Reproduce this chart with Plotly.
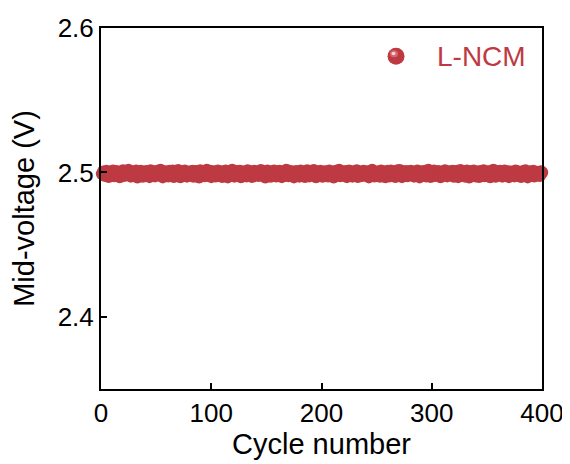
import plotly.graph_objects as go

cycles = list(range(1, 401))
mid_voltage = [
    2.4990, 2.5005, 2.4978, 2.4992, 2.5010, 2.4985, 2.4970, 2.5003, 2.4995, 2.4982, 2.5012, 2.4975, 2.4993, 2.5008, 2.4987, 2.4996, 2.4968, 2.5004, 2.4990, 2.5014,
    2.4976, 2.4991, 2.5007, 2.4984, 2.5016, 2.4993, 2.4972, 2.4989, 2.5006, 2.4980, 2.4997, 2.5011, 2.4966, 2.4988, 2.4994, 2.5009, 2.4983, 2.4971, 2.5002, 2.4992,
    2.5008, 2.4986, 2.4995, 2.4969, 2.5013, 2.4990, 2.5004, 2.4981, 2.4974, 2.4993, 2.5010, 2.4987, 2.4996, 2.5017, 2.4984, 2.4967, 2.4991, 2.5006, 2.4979, 2.4998,
    2.4973, 2.5009, 2.4988, 2.4994, 2.5012, 2.4970, 2.4989, 2.5003, 2.4985, 2.5015, 2.4992, 2.4968, 2.5007, 2.4983, 2.4996, 2.5011, 2.4980, 2.4972, 2.4990, 2.5005,
    2.4987, 2.4995, 2.5010, 2.4971, 2.4992, 2.5008, 2.4984, 2.4997, 2.4966, 2.5013, 2.4989, 2.5004, 2.4982, 2.4975, 2.4993, 2.5016, 2.4986, 2.4991, 2.5009, 2.4969,
    2.4994, 2.5006, 2.4981, 2.4973, 2.4990, 2.5012, 2.4987, 2.4995, 2.5007, 2.4970, 2.4988, 2.4996, 2.5011, 2.4983, 2.4967, 2.5005, 2.4992, 2.4985, 2.5017, 2.4990,
    2.4972, 2.4989, 2.5008, 2.4984, 2.4997, 2.5010, 2.4968, 2.4991, 2.5004, 2.4979, 2.4994, 2.4974, 2.5013, 2.4988, 2.5006, 2.4982, 2.4970, 2.4993, 2.5009, 2.4986,
    2.5003, 2.4990, 2.4976, 2.4995, 2.5015, 2.4983, 2.4992, 2.5007, 2.4966, 2.4989, 2.5011, 2.4985, 2.4996, 2.4971, 2.5005, 2.4991, 2.5012, 2.4980, 2.4973, 2.4994,
    2.4988, 2.5009, 2.4984, 2.4969, 2.4993, 2.5006, 2.4990, 2.5016, 2.4982, 2.4975, 2.5010, 2.4987, 2.4997, 2.5004, 2.4967, 2.4992, 2.5008, 2.4986, 2.4995, 2.4972,
    2.5011, 2.4983, 2.4994, 2.5005, 2.4970, 2.4990, 2.5013, 2.4985, 2.4974, 2.4991, 2.5007, 2.4988, 2.5015, 2.4981, 2.4968, 2.5003, 2.4993, 2.4984, 2.5009, 2.4996,
    2.4971, 2.4989, 2.5006, 2.4986, 2.4995, 2.4973, 2.5012, 2.4990, 2.5004, 2.4982, 2.4966, 2.4992, 2.5010, 2.4987, 2.4997, 2.5017, 2.4975, 2.4991, 2.5005, 2.4984,
    2.4994, 2.5008, 2.4969, 2.4988, 2.5011, 2.4983, 2.4996, 2.4972, 2.5007, 2.4990, 2.4985, 2.5013, 2.4970, 2.4993, 2.5003, 2.4987, 2.4976, 2.5009, 2.4992, 2.4981,
    2.5006, 2.4989, 2.4967, 2.4995, 2.5010, 2.5016, 2.4984, 2.4973, 2.4991, 2.5004, 2.4986, 2.4997, 2.4971, 2.5012, 2.4990, 2.5007, 2.4982, 2.4968, 2.4993, 2.5009,
    2.4988, 2.4974, 2.5011, 2.4985, 2.4994, 2.5005, 2.4970, 2.4992, 2.5013, 2.4983, 2.5015, 2.4990, 2.4969, 2.5006, 2.4987, 2.4996, 2.5008, 2.4975, 2.4991, 2.4984,
    2.5010, 2.4989, 2.4993, 2.4972, 2.5004, 2.4986, 2.5012, 2.4981, 2.4967, 2.4995, 2.5007, 2.4990, 2.4984, 2.5009, 2.4973, 2.4992, 2.5016, 2.4988, 2.4970, 2.5005,
    2.4994, 2.5011, 2.4976, 2.4987, 2.4996, 2.5008, 2.4983, 2.4968, 2.5003, 2.4991, 2.4985, 2.5013, 2.4990, 2.4974, 2.4993, 2.5006, 2.4982, 2.4997, 2.5010, 2.4971,
    2.4989, 2.4995, 2.5009, 2.4969, 2.4992, 2.5015, 2.4986, 2.4994, 2.5005, 2.4972, 2.4990, 2.5012, 2.4984, 2.4966, 2.5007, 2.4988, 2.4996, 2.5011, 2.4983, 2.4973,
    2.5004, 2.4991, 2.4970, 2.5008, 2.4987, 2.4995, 2.5013, 2.4975, 2.4990, 2.5006, 2.4982, 2.4993, 2.4968, 2.5010, 2.4986, 2.5017, 2.4992, 2.4971, 2.4989, 2.5005,
    2.4985, 2.5009, 2.4994, 2.4972, 2.4990, 2.5012, 2.4983, 2.4996, 2.5007, 2.4969, 2.4991, 2.5004, 2.4988, 2.4995, 2.4974, 2.5011, 2.4986, 2.5006, 2.4980, 2.4993,
    2.4970, 2.4989, 2.5008, 2.4984, 2.5014, 2.4992, 2.4967, 2.4987, 2.5005, 2.4995, 2.4982, 2.5010, 2.4973, 2.4990, 2.5003, 2.4986, 2.4994, 2.4976, 2.5006, 2.4999,
]

series_name = "L-NCM"
x_ticks = [0, 100, 200, 300, 400]
y_ticks = [2.4, 2.5, 2.6]
red = "#BE3A43"
font = "Liberation Sans, Arial, sans-serif"

fig = go.Figure()
fig.add_trace(go.Scatter(
    x=cycles, y=mid_voltage, mode="markers", showlegend=False,
    marker=dict(size=12.5, color=red, line=dict(width=0)),
    cliponaxis=False,
))

axis_common = dict(
    showline=True, linecolor="black", linewidth=2, mirror=True,
    ticks="inside", ticklen=6, tickwidth=2, tickcolor="black",
    showgrid=False, zeroline=False, automargin=False,
    tickfont=dict(family=font, size=26, color="black"),
)

# legend: sphere-like marker built from layered circles + text
lx, ly = 0.669, 0.922
shapes = [
    dict(type="circle", xref="paper", yref="paper", xsizemode="pixel", ysizemode="pixel",
         xanchor=lx, yanchor=ly, x0=-8.5, x1=8.5, y0=-8.5, y1=8.5,
         fillcolor=red, line=dict(width=0)),
    dict(type="circle", xref="paper", yref="paper", xsizemode="pixel", ysizemode="pixel",
         xanchor=lx, yanchor=ly, x0=-6, x1=2, y0=-1, y1=6,
         fillcolor="#D8727A", line=dict(width=0), opacity=0.8),
    dict(type="circle", xref="paper", yref="paper", xsizemode="pixel", ysizemode="pixel",
         xanchor=lx, yanchor=ly, x0=-4.5, x1=-0.5, y0=1, y1=4.5,
         fillcolor="#F4D2D5", line=dict(width=0)),
]

# page body has an 8px default margin, so the figure is sized/placed to compensate
fig.update_layout(
    width=562, height=456,
    margin=dict(l=93, r=28, t=20, b=75),
    plot_bgcolor="white", paper_bgcolor="white",
    font=dict(family=font, color="black"),
    showlegend=False,
    shapes=shapes,
    annotations=[dict(text=series_name, xref="paper", yref="paper", x=0.758, y=0.920,
                      xanchor="left", yanchor="middle", showarrow=False,
                      font=dict(family=font, size=28, color=red))],
    xaxis=dict(range=[0, 400], tickvals=x_ticks,
               title=dict(text="Cycle number", font=dict(family=font, size=29), standoff=4),
               **axis_common),
    yaxis=dict(range=[2.35, 2.6], tickvals=y_ticks, tickformat=".1f",
               title=dict(text="Mid-voltage (V)", font=dict(family=font, size=29), standoff=15),
               **axis_common),
)

fig.write_html("out.html")
